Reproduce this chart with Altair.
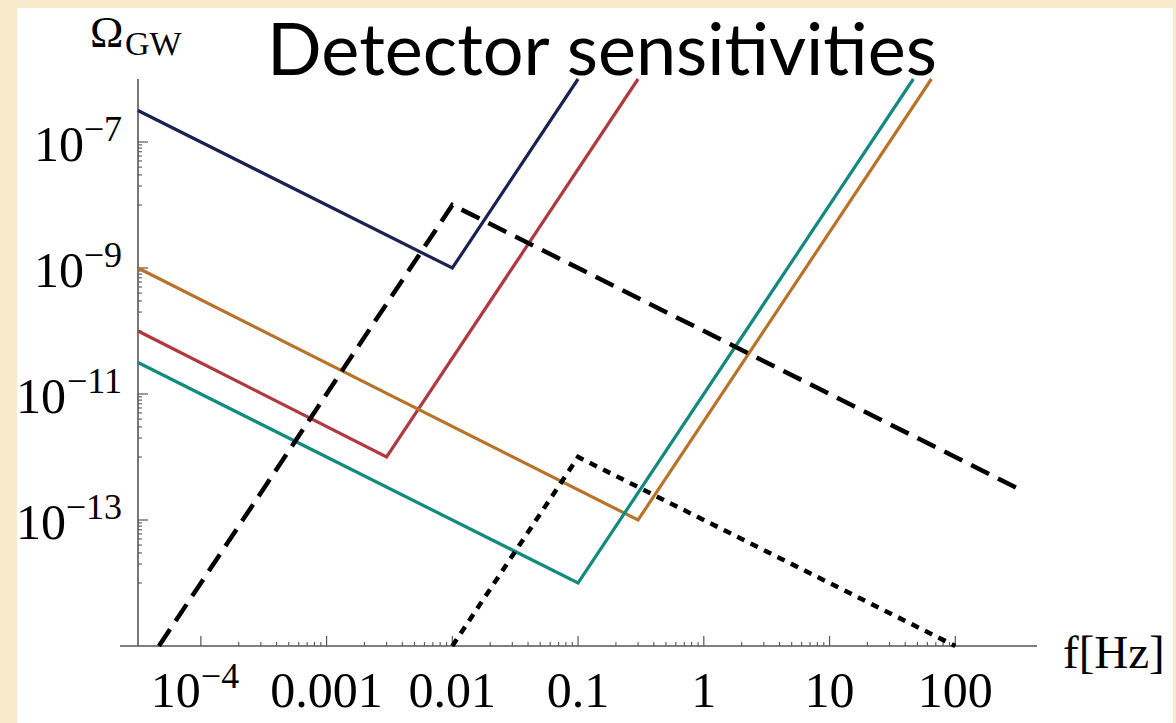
import altair as alt
import pandas as pd

# ---------------- data ----------------
# detector sensitivity curves: frequency [Hz] and Omega_GW at the line's end / corner points
det_names = ["Detector A", "Detector B", "Detector C", "Detector D"]
det_colors = ["#1C2250", "#B0383E", "#B8722A", "#14897D"]

f_a = [3.16e-5, 0.01, 0.1]
om_a = [3.16e-7, 1e-9, 1e-6]

f_b = [3.16e-5, 0.003, 0.3]
om_b = [1e-10, 1e-12, 1e-6]

f_c = [3.16e-5, 0.3, 64.6]
om_c = [1e-9, 1e-13, 1e-6]

f_d = [3.16e-5, 0.1, 46.4]
om_d = [3.16e-11, 1e-14, 1e-6]

# signal spectra
f_dashed = [4.64e-5, 0.01, 316.0]
om_dashed = [1e-15, 1e-8, 3.16e-13]

f_dotted = [0.01, 0.1, 100.0]
om_dotted = [1e-15, 1e-12, 1e-15]

# axes: ticks and labels
x_major = [1e-4, 1e-3, 1e-2, 0.1, 1, 10, 100]
x_minor = [k * 10.0 ** n for n in range(-4, 2) for k in range(2, 10)]
x_label_vals = [0.001, 0.01, 0.1, 1, 10, 100]
x_label_txt = ["0.001", "0.01", "0.1", "1", "10", "100"]
x_pow_vals = [1e-4]
x_pow_exp = ["\u22124"]

y_major = [1e-7, 1e-9, 1e-11, 1e-13]
y_minor = [k * 10.0 ** (n - 1) for n in (-7, -9, -11, -13) for k in range(1, 10)]
y_label_vals = [1e-7, 1e-9, 1e-11, 1e-13]
y_label_exp = ["\u22127", "\u22129", "\u221211", "\u221213"]

# ---------------- build tables ----------------
rows = []
for name, fs, oms in zip(det_names, [f_a, f_b, f_c, f_d], [om_a, om_b, om_c, om_d]):
    for i, (f, o) in enumerate(zip(fs, oms)):
        rows.append({"series": name, "f": f, "omega": o, "idx": i})
df_det = pd.DataFrame(rows)
df_dashed = pd.DataFrame({"f": f_dashed, "omega": om_dashed, "idx": range(len(f_dashed))})
df_dotted = pd.DataFrame({"f": f_dotted, "omega": om_dotted, "idx": range(len(f_dotted))})

df_xmaj = pd.DataFrame({"v": x_major})
df_xmin = pd.DataFrame({"v": x_minor})
df_ymaj = pd.DataFrame({"v": y_major})
df_ymin = pd.DataFrame({"v": y_minor})
df_xlab = pd.DataFrame({"v": x_label_vals, "t": x_label_txt})
df_xpow = pd.DataFrame({"v": x_pow_vals, "t": x_pow_exp})
df_ylab = pd.DataFrame({"v": y_label_vals, "t": y_label_exp})
one = pd.DataFrame({"a": [0]})

W, H = 899, 567
xscale = alt.Scale(type="log", domain=[10 ** -4.5, 10 ** 2.65], nice=False)
yscale = alt.Scale(type="log", domain=[1e-15, 1e-6], nice=False)
SERIF = "Liberation Serif"
AX = "#555555"


def X(field):
    return alt.X(field, type="quantitative", scale=xscale, axis=None)


def Y(field):
    return alt.Y(field, type="quantitative", scale=yscale, axis=None)


# white sheet behind the plot
sheet = alt.Chart(one).mark_rect(color="white").encode(
    x=alt.value(-121), x2=alt.value(1035), y=alt.value(-71), y2=alt.value(H + 80)
)

# axis lines
x_axis_line = alt.Chart(one).mark_rule(color=AX, strokeWidth=1.4).encode(
    x=alt.value(-18), x2=alt.value(W), y=alt.value(H)
)
y_axis_line = alt.Chart(one).mark_rule(color=AX, strokeWidth=1.6).encode(
    x=alt.value(0), y=alt.value(0), y2=alt.value(H)
)

# ticks (pointing inwards)
xt_major = alt.Chart(df_xmaj).mark_rule(color=AX, strokeWidth=1.2).encode(
    x=X("v"), y=alt.value(H - 10), y2=alt.value(H)
)
xt_minor = alt.Chart(df_xmin).mark_rule(color=AX, strokeWidth=1.1).encode(
    x=X("v"), y=alt.value(H - 4), y2=alt.value(H)
)
yt_major = alt.Chart(df_ymaj).mark_rule(color=AX, strokeWidth=1.2).encode(
    y=Y("v"), x=alt.value(0), x2=alt.value(10)
)
yt_minor = alt.Chart(df_ymin).mark_rule(color=AX, strokeWidth=1.1).encode(
    y=Y("v"), x=alt.value(0), x2=alt.value(4)
)

# data lines
det_lines = alt.Chart(df_det).mark_line(strokeWidth=3.2, clip=False).encode(
    x=X("f"),
    y=Y("omega"),
    color=alt.Color("series:N", scale=alt.Scale(domain=det_names, range=det_colors), legend=None),
    order=alt.Order("idx:Q"),
)
dashed = alt.Chart(df_dashed).mark_line(color="black", strokeWidth=4.5, strokeDash=[20, 10], clip=False).encode(
    x=X("f"), y=Y("omega"), order=alt.Order("idx:Q")
)
dotted = alt.Chart(df_dotted).mark_line(color="black", strokeWidth=4.5, strokeDash=[8, 7], clip=False).encode(
    x=X("f"), y=Y("omega"), order=alt.Order("idx:Q")
)

# tick labels
xlab = alt.Chart(df_xlab).mark_text(font=SERIF, fontSize=50, align="center", baseline="alphabetic", color="black").encode(
    x=X("v"), y=alt.value(H + 61), text="t:N"
)
xpow_base = alt.Chart(df_xpow).mark_text(font=SERIF, fontSize=50, align="right", baseline="alphabetic", color="black").encode(
    x=X("v"), y=alt.value(H + 61), text=alt.value("10")
)
xpow_sup = alt.Chart(df_xpow).mark_text(font=SERIF, fontSize=36, align="left", baseline="alphabetic", color="black").encode(
    x=X("v"), y=alt.value(H + 42), text="t:N"
)
ylab_sup = alt.Chart(df_ylab).mark_text(font=SERIF, fontSize=36, align="right", baseline="alphabetic", dy=-1.5, color="black").encode(
    y=Y("v"), x=alt.value(-16), text="t:N"
)
ylab_base_narrow = alt.Chart(df_ylab).transform_filter("length(datum.t) <= 2").mark_text(
    font=SERIF, fontSize=50, align="right", baseline="alphabetic", dy=18.5, color="black"
).encode(y=Y("v"), x=alt.value(-54), text=alt.value("10"))
ylab_base_wide = alt.Chart(df_ylab).transform_filter("length(datum.t) > 2").mark_text(
    font=SERIF, fontSize=50, align="right", baseline="alphabetic", dy=18.5, color="black"
).encode(y=Y("v"), x=alt.value(-72), text=alt.value("10"))

# axis titles and chart title
f_title = alt.Chart(one).mark_text(font=SERIF, fontSize=47, align="left", baseline="alphabetic", color="black").encode(
    x=alt.value(925), y=alt.value(H + 22), text=alt.value("f[Hz]")
)
omega_title = alt.Chart(one).mark_text(font=SERIF, fontSize=45, align="left", baseline="alphabetic", color="black").encode(
    x=alt.value(-48), y=alt.value(-32), text=alt.value("\u03a9")
)
gw_title = alt.Chart(one).mark_text(font=SERIF, fontSize=34, align="left", baseline="alphabetic", color="black").encode(
    x=alt.value(-13), y=alt.value(-24), text=alt.value("GW")
)
main_title = alt.Chart(one).mark_text(font="Lato", fontSize=72, align="center", baseline="alphabetic", color="black").encode(
    x=alt.value(464), y=alt.value(-4), text=alt.value("Detector sensitivities")
)

chart = alt.layer(
    sheet,
    x_axis_line, y_axis_line, xt_major, xt_minor, yt_major, yt_minor,
    det_lines, dashed, dotted,
    xlab, xpow_base, xpow_sup, ylab_sup, ylab_base_narrow, ylab_base_wide,
    f_title, omega_title, gw_title, main_title,
).properties(
    width=W,
    height=H,
    padding={"left": 138, "top": 79, "right": 139, "bottom": 77},
    autosize=alt.AutoSizeParams(type="none"),
    background="#F7EBCB",
).configure_view(stroke=None)

chart.save("out.html", embed_options={"renderer": "svg", "actions": False})
